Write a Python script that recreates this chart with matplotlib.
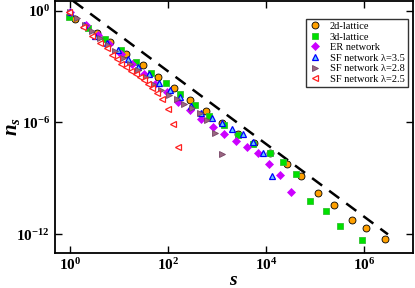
import numpy as np
import matplotlib
matplotlib.use('Agg')
import matplotlib.pyplot as plt
from matplotlib.ticker import FixedLocator, FixedFormatter, NullLocator

plt.rcParams['font.family'] = ['Liberation Serif', 'DejaVu Serif']
plt.rcParams['mathtext.fontset'] = 'custom'
plt.rcParams['mathtext.rm'] = 'Liberation Serif:bold'
plt.rcParams['mathtext.bf'] = 'Liberation Serif:bold'
plt.rcParams['mathtext.it'] = 'Liberation Serif:italic:bold'
plt.rcParams['mathtext.default'] = 'bf'

# log10(s) and log10(n_s)
lat2d_s = [0.10, 0.55, 0.81, 1.14, 1.48, 1.80, 2.12, 2.45, 2.78, 3.11, 3.43, 3.76, 4.08, 4.42, 4.71, 5.07, 5.39, 5.76, 6.04, 6.43]
lat2d_n = [-0.45, -1.20, -1.71, -2.32, -2.93, -3.54, -4.17, -4.79, -5.38, -6.03, -6.63, -7.09, -7.65, -8.23, -8.90, -9.82, -10.45, -11.22, -11.68, -12.24]

lat3d_s = [-0.03, 0.37, 0.71, 1.03, 1.34, 1.65, 1.95, 2.24, 2.55, 2.84, 3.14, 3.43, 3.74, 4.08, 4.35, 4.61, 4.90, 5.22, 5.51, 5.96]
lat3d_n = [-0.32, -0.91, -1.54, -2.11, -2.74, -3.33, -3.90, -4.49, -5.06, -5.65, -6.15, -6.67, -7.16, -7.65, -8.12, -8.79, -10.21, -10.74, -11.56, -12.31]

er_s = [0, 0.32, 0.56, 0.79, 1.03, 1.26, 1.50, 1.73, 1.97, 2.21, 2.45, 2.67, 2.91, 3.15, 3.39, 3.61, 3.84, 4.07, 4.29, 4.51]
er_n = [-0.07, -0.77, -1.30, -1.79, -2.32, -2.86, -3.40, -3.93, -4.36, -4.90, -5.36, -5.81, -6.23, -6.60, -6.98, -7.30, -7.65, -8.23, -8.82, -9.75]

sf35_s = [0, 0.29, 0.51, 0.75, 0.97, 1.18, 1.39, 1.61, 1.82, 2.03, 2.24, 2.47, 2.67, 2.89, 3.10, 3.31, 3.52, 3.73, 3.93, 4.12]
sf35_n = [-0.07, -0.77, -1.36, -1.76, -2.11, -2.59, -3.01, -3.40, -3.88, -4.26, -4.65, -5.12, -5.49, -5.78, -6.03, -6.35, -6.63, -7.05, -7.64, -8.87]

sf28_s = [-0.01, 0.14, 0.30, 0.45, 0.61, 0.77, 0.92, 1.08, 1.23, 1.39, 1.54, 1.70, 1.86, 2.01, 2.18, 2.33, 2.49, 2.65, 2.80, 2.96, 3.10]
sf28_n = [-0.07, -0.39, -0.77, -1.09, -1.47, -1.84, -2.16, -2.54, -2.86, -3.18, -3.56, -3.93, -4.26, -4.52, -4.77, -5.01, -5.22, -5.49, -5.87, -6.55, -7.69]

sf25_s = [-0.02, 0.27, 0.45, 0.61, 0.75, 0.86, 0.96, 1.04, 1.14, 1.24, 1.34, 1.43, 1.51, 1.59, 1.67, 1.77, 1.87, 1.99, 2.09, 2.20]
sf25_n = [-0.09, -0.86, -1.36, -1.73, -2.00, -2.38, -2.62, -2.84, -3.05, -3.24, -3.42, -3.59, -3.72, -3.93, -4.18, -4.40, -4.77, -5.29, -6.08, -7.32]

# dashed guide line  n_s = A * s^(-tau)
guide_logA = 0.64
guide_tau = 1.95
guide_s = [0.06, 6.49]

labels = ['2d-lattice', '3d-lattice', 'ER network',
          'SF network λ=3.5', 'SF network λ=2.8', 'SF network λ=2.5']

fig = plt.figure(figsize=(4.15, 2.88), dpi=100)
ax = fig.add_axes([0.1325, 0.1226, 0.8625, 0.874])

gs = np.array(guide_s)
ax.plot(10**gs, 10**(guide_logA - guide_tau*gs), '--', color='k', lw=1.8, dashes=(5, 3.5), zorder=1)

def pl(sx, ny, **kw):
    ax.plot(10**np.array(sx), 10**np.array(ny), ls='none', **kw)

pl(lat2d_s, lat2d_n, marker='o', ms=5, mfc='#ffa000', mec='k', mew=0.6, label=labels[0], zorder=3)
pl(lat3d_s, lat3d_n, marker='s', ms=4.8, mfc='#00e000', mec='#30c030', mew=0.6, label=labels[1], zorder=3)
pl(er_s, er_n, marker='D', ms=3.8, mfc='#cc00ff', mec='#cc00ff', mew=0.5, label=labels[2], zorder=3)
pl(sf35_s, sf35_n, marker='^', ms=5, mfc='#66ccff', mec='#0000ff', mew=0.9, label=labels[3], zorder=3)
pl(sf28_s, sf28_n, marker='>', ms=5, mfc='#996680', mec='#774466', mew=0.6, label=labels[4], zorder=3)
pl(sf25_s, sf25_n, marker='<', ms=5, mfc='white', mec='#ff2020', mew=0.9, label=labels[5], zorder=3)

ax.set_xscale('log')
ax.set_yscale('log')
ax.set_xlim(10**-0.31, 10**7.0)
ax.set_ylim(10**-13.0, 10**0.52)

ax.xaxis.set_major_locator(FixedLocator([1, 1e2, 1e4, 1e6]))
ax.xaxis.set_major_formatter(FixedFormatter([r'$10^{0}$', r'$10^{2}$', r'$10^{4}$', r'$10^{6}$']))
ax.yaxis.set_major_locator(FixedLocator([1, 1e-6, 1e-12]))
ax.yaxis.set_major_formatter(FixedFormatter([r'$10^{0}$', r'$10^{-6}$', r'$10^{-12}$']))
ax.xaxis.set_minor_locator(NullLocator())
ax.yaxis.set_minor_locator(NullLocator())
ax.tick_params(which='both', direction='in', top=True, right=True, length=5, width=1, labelsize=11)

for sp in ax.spines.values():
    sp.set_linewidth(1.3)

ax.set_xlabel(r'$\mathit{s}$', fontsize=14, labelpad=-1)
ax.set_ylabel(r'$\mathit{n_s}$', fontsize=15)
ax.yaxis.set_label_coords(-0.092, 0.5)

leg = ax.legend(loc='upper right', bbox_to_anchor=(0.985, 0.93), fontsize=7.5, frameon=True, fancybox=False,
                edgecolor='k', handlelength=1.2, handletextpad=0.8, borderpad=0.3, labelspacing=0.12,
                numpoints=1, borderaxespad=0)
leg.get_frame().set_linewidth(1.0)

fig.savefig('out.png', dpi=100)
